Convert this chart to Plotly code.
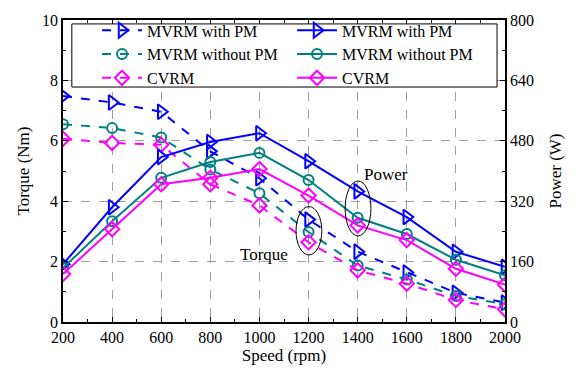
import plotly.graph_objects as go

speed = [200, 400, 600, 800, 1000, 1200, 1400, 1600, 1800, 2000]

torque_mvrm_pm = [7.48, 7.27, 6.96, 5.65, 4.76, 3.39, 2.33, 1.64, 0.97, 0.64]
torque_mvrm_nopm = [6.55, 6.42, 6.11, 5.05, 4.26, 2.98, 1.87, 1.41, 0.86, 0.59]
torque_cvrm = [6.07, 5.93, 5.87, 4.56, 3.86, 2.64, 1.71, 1.27, 0.73, 0.42]

power_mvrm_pm = [153, 304, 437, 477, 500, 426, 346, 278, 186, 146]
power_mvrm_nopm = [143, 267, 382, 424, 448, 376, 276, 233, 165, 124]
power_cvrm = [127, 246, 365, 382, 405, 335, 256, 217, 141, 99]

names = ["MVRM with PM", "MVRM without PM", "CVRM"]
colors = ["#0000ff", "#008080", "#ff00ff"]
symbols = ["triangle-right-open", "circle-open", "diamond-open"]
sizes = [13, 10, 11]
torques = [torque_mvrm_pm, torque_mvrm_nopm, torque_cvrm]
powers = [power_mvrm_pm, power_mvrm_nopm, power_cvrm]

FONT = "Liberation Serif"

fig = go.Figure()
for i in range(3):
    fig.add_trace(go.Scatter(
        x=speed, y=torques[i], name=names[i], mode="lines+markers",
        line=dict(color=colors[i], width=2, dash="dash"),
        marker=dict(symbol=symbols[i], size=sizes[i], color=colors[i],
                    line=dict(width=2, color=colors[i])),
        yaxis="y"))
    fig.add_trace(go.Scatter(
        x=speed, y=powers[i], name=names[i], mode="lines+markers",
        line=dict(color=colors[i], width=2),
        marker=dict(symbol=symbols[i], size=sizes[i], color=colors[i],
                    line=dict(width=2, color=colors[i])),
        yaxis="y2"))

# legend box
fig.add_shape(type="rect", xref="paper", yref="paper", x0=0.020, x1=0.982, y0=0.778, y1=0.987,
              line=dict(color="black", width=1), fillcolor="white", layer="above")
# ellipses
fig.add_shape(type="circle", xref="x", yref="y", x0=1349, x1=1454, y0=2.85, y1=4.67,
              line=dict(color="black", width=1))
fig.add_shape(type="circle", xref="x", yref="y", x0=1149, x1=1254, y0=2.22, y1=3.82,
              line=dict(color="black", width=1))
fig.add_annotation(x=1516, y=4.9, xref="x", yref="y", text="Power", showarrow=False,
                   font=dict(family=FONT, size=17, color="black"))
fig.add_annotation(x=1019, y=2.22, xref="x", yref="y", text="Torque", showarrow=False,
                   font=dict(family=FONT, size=17, color="black"))

axis_common = dict(showline=True, linecolor="black", linewidth=1.5, ticks="inside",
                   ticklen=5, tickcolor="black", zeroline=False,
                   tickfont=dict(family=FONT, size=16, color="black"))

fig.update_layout(
    width=576, height=374,
    margin=dict(l=63, r=71, t=17, b=51),
    paper_bgcolor="white", plot_bgcolor="white",
    font=dict(family=FONT, size=16, color="black"),
    showlegend=True,
    legend=dict(orientation="h", x=0.077, y=1.022, xanchor="left", yanchor="top",
                borderwidth=0, bgcolor="rgba(0,0,0,0)",
                entrywidth=140, itemwidth=40,
                font=dict(family=FONT, size=16, color="black"),
                tracegroupgap=0),
    xaxis=dict(range=[200, 2000], tickvals=speed, mirror="ticks",
               showgrid=True, gridcolor="#a0a0a0", griddash="dash", gridwidth=1,
               minor=dict(dtick=100, tick0=200, ticks="inside", ticklen=3, tickcolor="black", showgrid=False),
               title=dict(text="Speed (rpm)", font=dict(family=FONT, size=17), standoff=4),
               **axis_common),
    yaxis=dict(range=[0, 10], dtick=2, showgrid=True, gridcolor="#a0a0a0", griddash="dash",
               minor=dict(dtick=1, ticks="inside", ticklen=3, tickcolor="black", showgrid=False),
               title=dict(text="Torque (Nm)", font=dict(family=FONT, size=17), standoff=8),
               **axis_common),
    yaxis2=dict(range=[0, 800], dtick=160, overlaying="y", side="right", showgrid=False,
                minor=dict(dtick=80, ticks="inside", ticklen=3, tickcolor="black", showgrid=False),
                title=dict(text="Power (W)", font=dict(family=FONT, size=17), standoff=16),
                **axis_common),
)

fig.write_html("out.html")
